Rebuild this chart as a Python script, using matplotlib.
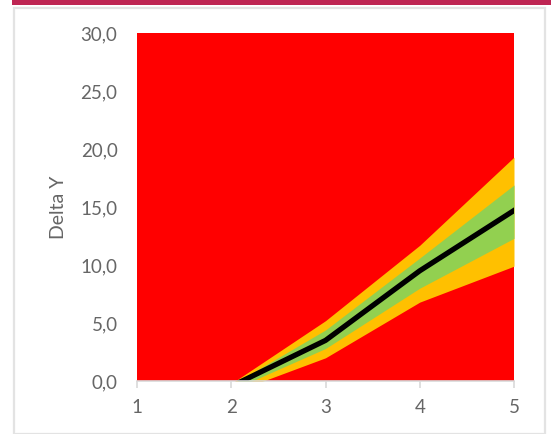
# fan chart: red background, yellow / green bands and the central line
import matplotlib.pyplot as plt
from matplotlib.patches import Rectangle

x = [1, 2, 3, 4, 5]
mean = [-0.8, -0.46, 3.5, 9.5, 14.7]
green_lo = [-1.2, -0.79, 2.8, 8.0, 12.3]
green_hi = [-0.5, -0.36, 4.4, 10.6, 16.9]
yellow_lo = [-1.5, -1.03, 2.0, 6.8, 9.9]
yellow_hi = [-0.3, -0.22, 5.2, 11.7, 19.3]
red_top = [30, 30, 30, 30, 30]

yticks = [0, 5, 10, 15, 20, 25, 30]
ytick_labels = ['0,0', '5,0', '10,0', '15,0', '20,0', '25,0', '30,0']

plt.rcParams['font.family'] = ['Lato', 'DejaVu Sans']
grey = '#666666'

fig = plt.figure(figsize=(5.51, 4.34), dpi=100)

# frame around the chart and the coloured strip on top
fig.patches.append(Rectangle((13.5 / 551, 0), (545 - 13.5) / 551, 1 - 7.5 / 434,
                             transform=fig.transFigure, fill=False,
                             edgecolor='#e3e3e3', linewidth=1.6))
fig.patches.append(Rectangle((12 / 551, 1 - 5 / 434), 1, 5 / 434,
                             transform=fig.transFigure, facecolor='#be2553',
                             edgecolor='none'))

ax = fig.add_axes([137 / 551, 53 / 434, 377 / 551, 348 / 434])

ax.fill_between(x, 0, red_top, color='#ff0000', linewidth=0)
ax.fill_between(x, yellow_lo, yellow_hi, color='#ffc000', linewidth=0)
ax.fill_between(x, green_lo, green_hi, color='#92d050', linewidth=0)
ax.plot(x, mean, color='black', linewidth=3.8)

ax.set_xlim(1, 5)
ax.set_ylim(0, 30)
ax.set_xticks(x)
ax.set_xticklabels([str(v) for v in x])
ax.set_yticks(yticks)
ax.set_yticklabels(ytick_labels)

for side in ['top', 'right', 'left']:
    ax.spines[side].set_visible(False)
ax.spines['bottom'].set_color('#d9d9d9')
ax.spines['bottom'].set_linewidth(1.2)
ax.spines['bottom'].set_zorder(5)

ax.tick_params(axis='x', colors='#d9d9d9', labelcolor=grey, length=5,
               width=1.2, labelsize=13.5, pad=8)
ax.tick_params(axis='y', length=0, labelcolor=grey, labelsize=13.5, pad=14)

ax.set_ylabel('Delta Y', color=grey, fontsize=14, labelpad=10)

fig.savefig('out.png', dpi=100)
